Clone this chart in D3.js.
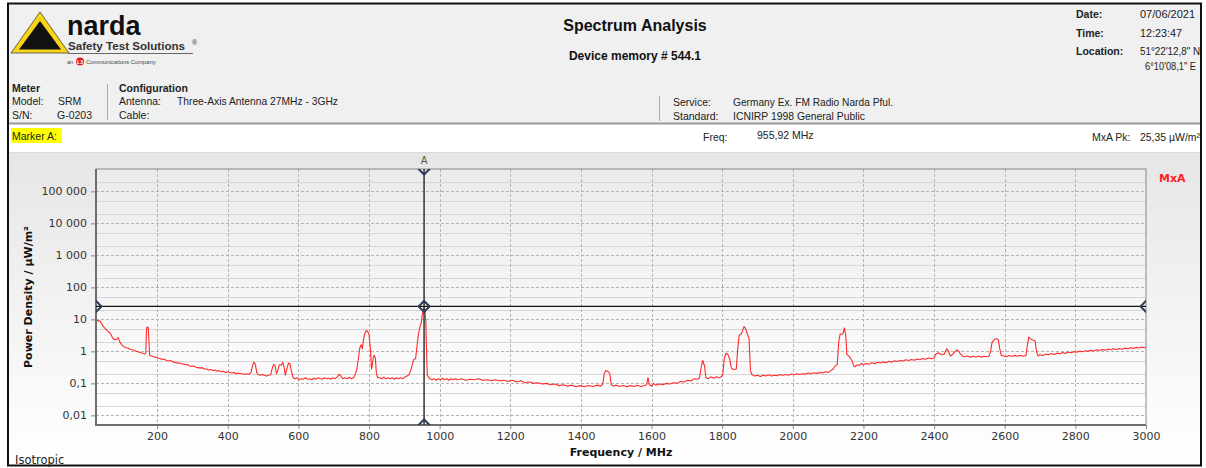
<!DOCTYPE html>
<html><head><meta charset="utf-8">
<script src="https://cdn.jsdelivr.net/npm/d3@7/dist/d3.min.js"></script>
<style>body{margin:0;background:#fff}svg{display:block}</style>
</head><body>
<script>
// ---------- DATA ----------
const xTicks = [200,400,600,800,1000,1200,1400,1600,1800,2000,2200,2400,2600,2800,3000];
const yTicks = [0.01,0.1,1,10,100,1000,10000,100000];
const yTickLabels = ["0,01","0,1","1","10","100","1 000","10 000","100 000"];
const yMinor = [0.02,0.05,0.2,0.5,2,5,20,50,200,500,2000,5000,20000,50000,200000];
const markerFreq = 955.92;   // MHz
const markerPk = 25.35;      // µW/m²
// spectrum trace: [frequency MHz, power density µW/m²]
const spectrum = [
[27,8.5],[32,9.2],[38,8.8],[44,7.0],[50,5.6],[56,4.8],[62,4.1],[68,3.6],[74,2.6],[80,2.3],[86,2.4],[90,2.7],[95,1.9],[100,1.6],
[106,1.4],[112,1.3],[118,1.25],[124,1.15],[130,1.12],[136,1.05],[142,1.0],[148,0.95],[154,0.9],[160,0.87],[165,0.82],[168,0.9],
[170,5.0],[172,5.8],[175,5.5],[177,2.0],[179,0.75],[184,0.72],[190,0.68],[196,0.66],[202,0.62],[208,0.6],[214,0.56],[220,0.58],
[226,0.52],[232,0.5],[238,0.52],[244,0.47],[250,0.46],[256,0.43],[262,0.44],[268,0.41],[274,0.4],[280,0.38],[286,0.39],[292,0.35],
[298,0.34],[304,0.35],[310,0.32],[316,0.31],[322,0.3],[328,0.31],[334,0.28],[340,0.28],[346,0.26],[352,0.27],[358,0.25],[364,0.26],
[370,0.24],[376,0.25],[382,0.23],[388,0.24],[394,0.22],[400,0.23],[406,0.22],[412,0.21],[418,0.22],[424,0.2],[430,0.21],[436,0.2],
[442,0.2],[448,0.19],[454,0.2],[460,0.19],[466,0.22],[470,0.35],[474,0.46],[478,0.4],[482,0.22],[486,0.19],[492,0.18],[498,0.19],
[504,0.18],[510,0.17],[516,0.18],[522,0.19],[526,0.3],[530,0.39],[534,0.36],[538,0.2],[542,0.26],[546,0.38],[552,0.37],[556,0.46],
[560,0.3],[563,0.18],[568,0.3],[572,0.43],[576,0.42],[580,0.25],[585,0.15],[590,0.14],[596,0.15],[602,0.13],[608,0.14],[614,0.135],
[620,0.15],[626,0.135],[632,0.14],[638,0.13],[644,0.145],[650,0.135],[656,0.15],[662,0.14],[668,0.135],[674,0.15],[680,0.14],
[686,0.145],[692,0.135],[698,0.15],[704,0.14],[710,0.16],[716,0.19],[720,0.17],[726,0.14],[732,0.15],[738,0.14],[744,0.155],
[750,0.14],[756,0.15],[762,0.2],[766,0.3],[770,0.6],[774,1.3],[778,1.6],[781,1.2],[784,2.2],[788,3.6],[792,4.5],[796,4.2],[800,3.4],
[804,1.2],[807,0.28],[809,0.35],[812,0.65],[815,0.75],[818,0.6],[821,0.2],[825,0.15],[830,0.15],[836,0.14],[842,0.155],[848,0.14],
[854,0.15],[860,0.14],[866,0.15],[872,0.135],[878,0.15],[884,0.14],[890,0.15],[896,0.14],[902,0.16],[908,0.17],[914,0.19],[920,0.3],
[926,0.55],[932,0.6],[936,1.5],[940,3.5],[944,5.6],[948,8],[951,14],[954,20],[956,25.35],[958,21],[961,8],[963,1.0],[965,0.18],
[968,0.16],[972,0.14],[978,0.13],[984,0.14],[990,0.125],[996,0.14],[1002,0.13],[1008,0.145],[1014,0.13],[1020,0.14],[1026,0.125],
[1032,0.14],[1038,0.13],[1044,0.14],[1050,0.13],[1062,0.14],[1074,0.125],[1086,0.135],[1098,0.13],[1110,0.14],[1122,0.125],
[1134,0.13],[1146,0.12],[1158,0.13],[1170,0.12],[1182,0.125],[1194,0.115],[1206,0.125],[1218,0.11],[1230,0.12],[1242,0.105],
[1254,0.11],[1266,0.1],[1278,0.105],[1290,0.095],[1302,0.1],[1314,0.09],[1326,0.095],[1338,0.085],[1350,0.09],[1362,0.082],
[1374,0.088],[1386,0.078],[1398,0.085],[1410,0.078],[1422,0.086],[1434,0.08],[1446,0.088],[1456,0.082],[1462,0.095],[1466,0.2],
[1470,0.25],[1476,0.24],[1482,0.2],[1486,0.09],[1492,0.082],[1500,0.088],[1510,0.08],[1520,0.086],[1530,0.078],[1540,0.085],
[1550,0.08],[1560,0.087],[1570,0.08],[1580,0.086],[1586,0.09],[1590,0.15],[1594,0.09],[1600,0.082],[1606,0.1],[1612,0.088],
[1622,0.095],[1632,0.09],[1642,0.1],[1652,0.095],[1662,0.105],[1672,0.1],[1682,0.115],[1692,0.11],[1702,0.125],[1712,0.12],
[1722,0.14],[1730,0.135],[1736,0.15],[1740,0.3],[1745,0.52],[1750,0.35],[1754,0.15],[1760,0.14],[1768,0.16],[1776,0.145],
[1784,0.16],[1792,0.15],[1798,0.16],[1802,0.2],[1806,0.6],[1811,0.87],[1816,0.8],[1821,0.6],[1826,0.3],[1832,0.27],[1840,0.28],
[1844,1.2],[1848,3.2],[1853,3.4],[1858,4.5],[1862,6],[1866,5.2],[1872,3.3],[1876,2.5],[1880,0.25],[1884,0.19],[1892,0.17],
[1900,0.18],[1908,0.165],[1916,0.18],[1924,0.17],[1932,0.185],[1940,0.17],[1948,0.18],[1956,0.175],[1964,0.19],[1972,0.18],
[1980,0.19],[1988,0.18],[1996,0.195],[2004,0.185],[2012,0.2],[2020,0.19],[2028,0.2],[2036,0.195],[2044,0.21],[2052,0.2],
[2060,0.215],[2068,0.205],[2076,0.22],[2084,0.21],[2092,0.23],[2100,0.22],[2108,0.25],[2114,0.28],[2120,0.35],[2126,0.4],
[2130,2.0],[2134,3.5],[2138,3.4],[2142,3.6],[2146,5.4],[2150,3.0],[2153,0.8],[2158,0.72],[2164,0.6],[2168,0.5],[2172,0.36],
[2176,0.33],[2182,0.38],[2188,0.36],[2194,0.42],[2200,0.38],[2208,0.42],[2216,0.4],[2224,0.44],[2232,0.41],[2240,0.46],
[2248,0.43],[2256,0.47],[2264,0.44],[2272,0.49],[2280,0.46],[2288,0.51],[2296,0.48],[2304,0.52],[2312,0.5],[2320,0.55],
[2328,0.52],[2336,0.56],[2344,0.53],[2352,0.58],[2360,0.55],[2368,0.6],[2376,0.57],[2384,0.62],[2392,0.59],[2400,0.62],
[2404,0.8],[2410,0.9],[2416,0.85],[2422,0.78],[2428,0.8],[2432,1.0],[2436,1.2],[2440,1.05],[2446,0.72],[2452,0.8],[2458,0.95],
[2464,1.1],[2468,1.05],[2474,0.85],[2480,0.72],[2486,0.68],[2494,0.72],[2502,0.66],[2510,0.7],[2518,0.67],[2526,0.72],[2534,0.66],
[2542,0.7],[2550,0.68],[2556,0.72],[2560,1.0],[2564,1.9],[2570,2.3],[2576,2.5],[2582,2.3],[2586,1.2],[2590,0.75],[2596,0.72],
[2604,0.68],[2612,0.74],[2620,0.7],[2628,0.75],[2636,0.7],[2644,0.76],[2652,0.7],[2660,0.74],[2664,1.5],[2668,2.8],[2672,2.5],
[2678,2.3],[2686,2.1],[2690,1.0],[2694,0.72],[2700,0.78],[2708,0.74],[2716,0.82],[2724,0.78],[2732,0.86],[2740,0.8],[2748,0.88],
[2756,0.84],[2764,0.92],[2772,0.86],[2780,0.95],[2788,0.9],[2796,0.98],[2804,0.94],[2812,1.02],[2820,0.97],[2828,1.05],[2836,1.0],
[2844,1.08],[2852,1.03],[2860,1.12],[2868,1.06],[2876,1.14],[2884,1.08],[2892,1.17],[2900,1.12],[2908,1.2],[2916,1.14],[2924,1.23],
[2932,1.17],[2940,1.26],[2948,1.2],[2956,1.3],[2964,1.24],[2972,1.33],[2980,1.27],[2988,1.36],[2996,1.3],[3000,1.36]
];

// ---------- DRAW ----------
const W = 1206, H = 468;
const svg = d3.select("body").append("svg").attr("width", W).attr("height", H);
const hf = "'Liberation Sans', Arial, sans-serif";
const cf = "'DejaVu Sans', Verdana, sans-serif";

const defs = svg.append("defs");
const g1 = defs.append("linearGradient").attr("id","panelGrad").attr("x1",0).attr("y1",0).attr("x2",0).attr("y2",1);
g1.append("stop").attr("offset","0%").attr("stop-color","#e6e6e6");
g1.append("stop").attr("offset","100%").attr("stop-color","#ffffff");
const g2 = defs.append("linearGradient").attr("id","plotGrad").attr("x1",0).attr("y1",0).attr("x2",0).attr("y2",1);
g2.append("stop").attr("offset","0%").attr("stop-color","#ebebeb");
g2.append("stop").attr("offset","100%").attr("stop-color","#ffffff");

// frame areas
svg.append("rect").attr("x",8).attr("y",4).attr("width",1193).attr("height",119).attr("fill","#f0f0f0");
svg.append("rect").attr("x",8).attr("y",124).attr("width",1193).attr("height",28).attr("fill","#ffffff");
svg.append("rect").attr("x",8).attr("y",153).attr("width",1193).attr("height",312).attr("fill","url(#panelGrad)");
svg.append("line").attr("x1",8).attr("x2",1201).attr("y1",123.5).attr("y2",123.5).attr("stroke","#9a9a9a").attr("stroke-width",2);
svg.append("line").attr("x1",8).attr("x2",1201).attr("y1",152.5).attr("y2",152.5).attr("stroke","#dcdcdc").attr("stroke-width",1);
svg.append("rect").attr("x",8).attr("y",3.5).attr("width",1193).attr("height",462).attr("fill","none").attr("stroke","#111").attr("stroke-width",2);

// logo
svg.append("polygon").attr("points","40,12 11,53 69,53").attr("fill","#f7d417").attr("stroke","#444").attr("stroke-width",0.8);
svg.append("polygon").attr("points","40,21 19,49.5 61,49.5").attr("fill","#111");
svg.append("text").attr("x",67).attr("y",35).attr("font-family",hf).attr("font-weight","bold").attr("font-size",27).attr("fill","#111").text("narda");
svg.append("text").attr("x",68).attr("y",50).attr("font-family",hf).attr("font-weight","bold").attr("font-size",11.6).attr("fill","#333").text("Safety Test Solutions");
svg.append("text").attr("x",192).attr("y",45).attr("font-family",hf).attr("font-size",7).attr("fill","#333").text("®");
svg.append("line").attr("x1",68).attr("x2",193).attr("y1",53.5).attr("y2",53.5).attr("stroke","#666").attr("stroke-width",1);
svg.append("text").attr("x",67).attr("y",64).attr("font-family",hf).attr("font-size",5.5).attr("fill","#444").text("an");
svg.append("circle").attr("cx",80).attr("cy",61.5).attr("r",4).attr("fill","#e02020");
svg.append("text").attr("x",80).attr("y",63.5).attr("text-anchor","middle").attr("font-family",hf).attr("font-weight","bold").attr("font-size",5).attr("fill","#fff").text("L3");
svg.append("text").attr("x",86).attr("y",64).attr("font-family",hf).attr("font-size",5.8).attr("fill","#444").text("Communications Company");

// title
svg.append("text").attr("x",635).attr("y",31).attr("text-anchor","middle").attr("font-family",hf).attr("font-weight","bold").attr("font-size",16).attr("fill","#111").text("Spectrum Analysis");
svg.append("text").attr("x",635).attr("y",60).attr("text-anchor","middle").attr("font-family",hf).attr("font-weight","bold").attr("font-size",12).attr("fill","#111").text("Device memory # 544.1");

// text helper
function txt(x,y,s,opts={}){
  const t = svg.append("text").attr("x",x).attr("y",y).attr("font-family",opts.f||hf).attr("font-size",opts.s||10.5)
    .attr("font-weight",opts.b?"bold":"normal").attr("fill",opts.c||"#222").attr("text-anchor",opts.a||"start").text(s);
  if (opts.len) t.attr("textLength",opts.len).attr("lengthAdjust","spacingAndGlyphs");
  return t;
}
txt(1076,18,"Date:",{b:true});
txt(1140,18,"07/06/2021",{len:55});
txt(1076,37,"Time:",{b:true});
txt(1140,37,"12:23:47",{len:42});
txt(1076,55,"Location:",{b:true});
txt(1140,55,"51°22'12,8\" N",{len:60});
txt(1145,70,"6°10'08,1\" E",{len:51});

// meter / configuration
txt(12,92,"Meter",{b:true});
txt(12,105,"Model:");
txt(58,105,"SRM");
txt(12,119,"S/N:");
txt(57,119,"G-0203");
svg.append("line").attr("x1",107.5).attr("x2",107.5).attr("y1",84).attr("y2",120).attr("stroke","#aaa");
txt(119,92,"Configuration",{b:true});
txt(119,105,"Antenna:");
txt(177,105,"Three-Axis Antenna 27MHz - 3GHz",{len:161});
txt(119,119,"Cable:");
svg.append("line").attr("x1",659.5).attr("x2",659.5).attr("y1",96).attr("y2",121).attr("stroke","#aaa");
txt(673,106,"Service:");
txt(733,106,"Germany Ex. FM Radio Narda Pful.",{len:160});
txt(673,120,"Standard:");
txt(733,120,"ICNIRP 1998 General Public",{len:132});

// marker row
svg.append("rect").attr("x",11).attr("y",128).attr("width",51).attr("height",15).attr("fill","#ffff00");
txt(12,140,"Marker A:");
txt(703,141,"Freq:");
txt(757,139,"955,92 MHz");
txt(1092,141,"MxA Pk:");
txt(1140,141,"25,35 µW/m²",{len:60});

// ---------- chart ----------
const L = 96, R = 1146, T = 169, B = 425;
const x = d3.scaleLinear().domain([27, 3000]).range([L, R]);
const y = d3.scaleLog().domain([0.005, 500000]).range([B, T]);

svg.append("rect").attr("x",L).attr("y",T).attr("width",R-L).attr("height",B-T).attr("fill","url(#plotGrad)");
defs.append("clipPath").attr("id","plotClip").append("rect").attr("x",L).attr("y",T).attr("width",R-L).attr("height",B-T);

const grid = svg.append("g");
grid.selectAll(".ymin").data(yMinor).join("line")
  .attr("x1",L).attr("x2",R).attr("y1",d=>Math.round(y(d))+0.5).attr("y2",d=>Math.round(y(d))+0.5)
  .attr("stroke","#d6d6d6").attr("stroke-width",1);
grid.selectAll(".ymaj").data(yTicks).join("line")
  .attr("x1",L).attr("x2",R).attr("y1",d=>Math.round(y(d))+0.5).attr("y2",d=>Math.round(y(d))+0.5)
  .attr("stroke","#b4b4b4").attr("stroke-dasharray","3,2").attr("stroke-width",1);
grid.selectAll(".xg").data(xTicks.slice(0,-1)).join("line")
  .attr("x1",d=>Math.round(x(d))+0.5).attr("x2",d=>Math.round(x(d))+0.5).attr("y1",T).attr("y2",B)
  .attr("stroke","#b4b4b4").attr("stroke-dasharray","3,2").attr("stroke-width",1);

// axes
const yAxis = d3.axisLeft(y).tickValues(yTicks).tickFormat((d,i)=>yTickLabels[i]).tickSize(5).tickPadding(4);
const gy = svg.append("g").attr("transform",`translate(${L},0)`).call(yAxis);
gy.select(".domain").remove();
gy.selectAll("line").attr("stroke","#888");
gy.selectAll("text").attr("font-family",cf).attr("font-size",11).attr("fill","#333");

const xAxis = d3.axisBottom(x).tickValues(xTicks).tickFormat(d3.format("d")).tickSize(4).tickPadding(3);
const gx = svg.append("g").attr("transform",`translate(0,${B})`).call(xAxis);
gx.select(".domain").remove();
gx.selectAll("line").attr("stroke","#888");
gx.selectAll("text").attr("font-family",cf).attr("font-size",11).attr("fill","#333");

// trace
const line = d3.line().x(d=>x(d[0])).y(d=>y(d[1]));
svg.append("path").datum(spectrum).attr("d",line).attr("fill","none")
  .attr("stroke","#ff2b2b").attr("stroke-width",1.1).attr("stroke-linejoin","round").attr("clip-path","url(#plotClip)");

// plot frame
svg.append("rect").attr("x",L).attr("y",T).attr("width",R-L).attr("height",B-T).attr("fill","none").attr("stroke","#888").attr("stroke-width",1);
svg.append("line").attr("x1",L).attr("x2",L).attr("y1",T).attr("y2",B+1).attr("stroke","#6e6e6e").attr("stroke-width",2);
svg.append("line").attr("x1",L).attr("x2",R).attr("y1",B).attr("y2",B).attr("stroke","#6e6e6e").attr("stroke-width",2);

// marker lines
const mx = x(markerFreq), my = y(markerPk);
svg.append("line").attr("x1",L).attr("x2",R).attr("y1",my).attr("y2",my).attr("stroke","#111").attr("stroke-width",1.2);
svg.append("line").attr("x1",mx).attr("x2",mx).attr("y1",T).attr("y2",B).attr("stroke","#333").attr("stroke-width",1.5);
const dm = svg.append("g").attr("clip-path","url(#plotClip)");
const diamond = (cx,cy,r)=>`M${cx},${cy-r}L${cx+r},${cy}L${cx},${cy+r}L${cx-r},${cy}Z`;
[[mx,my],[L,my],[R,my],[mx,T],[mx,B]].forEach(p=>{
  dm.append("path").attr("d",diamond(p[0],p[1],5.5)).attr("fill","none").attr("stroke","#2c3a58").attr("stroke-width",2);
});
svg.append("text").attr("x",mx).attr("y",164).attr("text-anchor","middle").attr("font-family",cf).attr("font-size",10).attr("fill","#555").text("A");
svg.append("text").attr("x",1159).attr("y",182).attr("font-family",cf).attr("font-weight","bold").attr("font-size",11).attr("fill","#ff1f1f").text("MxA");

// axis titles
svg.append("text").attr("transform",`translate(32,${(T+B)/2}) rotate(-90)`).attr("text-anchor","middle")
  .attr("font-family",cf).attr("font-weight","bold").attr("font-size",11).attr("fill","#111").text("Power Density / µW/m²");
svg.append("text").attr("x",621).attr("y",456).attr("text-anchor","middle")
  .attr("font-family",cf).attr("font-weight","bold").attr("font-size",11).attr("fill","#111").text("Frequency / MHz");
svg.append("text").attr("x",15).attr("y",464).attr("font-family",cf).attr("font-size",11.5).attr("fill","#222").text("Isotropic");
</script>
</body></html>
